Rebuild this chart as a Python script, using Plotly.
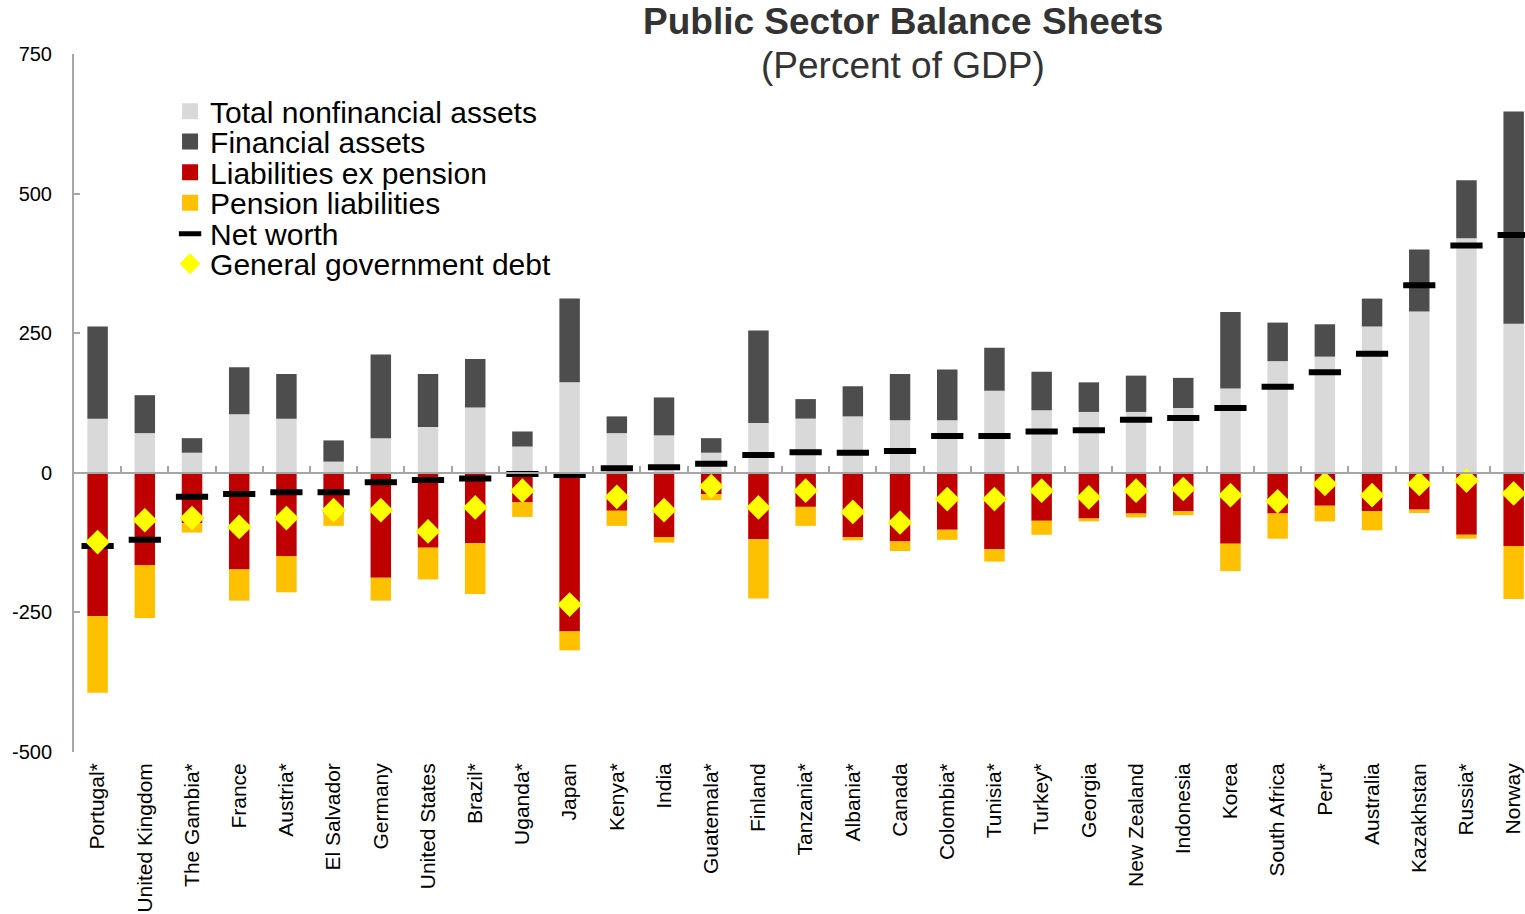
import plotly.graph_objects as go

# Public sector balance sheets, percent of GDP
countries = ["Portugal*", "United Kingdom", "The Gambia*", "France", "Austria*",
             "El Salvador", "Germany", "United States", "Brazil*", "Uganda*",
             "Japan", "Kenya*", "India", "Guatemala*", "Finland", "Tanzania*",
             "Albania*", "Canada", "Colombia*", "Tunisia*", "Turkey*", "Georgia",
             "New Zealand", "Indonesia", "Korea", "South Africa", "Peru*",
             "Australia", "Kazakhstan", "Russia*", "Norway"]

nonfinancial_assets = [97, 71, 36, 105, 97, 20, 62, 82, 117, 47, 162, 71, 67, 36, 89, 97,
                       101, 94, 94, 147, 112, 109, 109, 116, 151, 200, 208, 262, 289, 420, 267]
financial_assets = [165, 68, 26, 84, 80, 38, 150, 95, 87, 27, 150, 30, 68, 26, 166, 35,
                    54, 83, 91, 77, 69, 53, 65, 54, 137, 69, 58, 50, 111, 104, 380]
liabilities_ex_pension = [-257, -165, -90, -173, -149, -72, -188, -134, -126, -53, -284, -68,
                          -115, -38, -119, -61, -115, -123, -102, -137, -86, -82, -73, -69,
                          -127, -73, -59, -69, -66, -111, -131]
pension_liabilities = [-137, -95, -17, -56, -65, -23, -41, -57, -91, -26, -34, -27, -10, -11,
                       -106, -34, -6, -17, -18, -22, -25, -5, -7, -7, -49, -45, -28, -34,
                       -6, -7, -95]
net_worth = [-131, -120, -43, -38, -35, -35, -17, -13, -10, -2, -4, 8, 10, 16, 32, 37, 36,
             39, 66, 66, 74, 76, 95, 98, 116, 154, 180, 213, 336, 407, 426]
gg_debt = [-124, -85, -81, -97, -81, -67, -67, -105, -62, -32, -236, -43, -67, -24, -62, -32,
           -70, -89, -47, -47, -32, -44, -32, -29, -40, -51, -20, -40, -20, -14, -37]

y_ticks = [-500, -250, 0, 250, 500, 750]
y_tick_labels = ["-500", "-250", "0", "250", "500", "750"]

FONT = "Liberation Sans, Arial, sans-serif"
AXIS_GREY = "#a6a6a6"

fig = go.Figure()

bar_series = [
    ("Total nonfinancial assets", nonfinancial_assets, "#d9d9d9", "legend"),
    ("Financial assets", financial_assets, "#4d4d4d", "legend2"),
    ("Liabilities ex pension", liabilities_ex_pension, "#c00000", "legend3"),
    ("Pension liabilities", pension_liabilities, "#ffc000", "legend4"),
]
for name, values, color, leg in bar_series:
    fig.add_trace(go.Bar(
        x=countries, y=values, name=name, legendgroup=name, showlegend=False,
        marker=dict(color=color, line=dict(width=0)),
    ))
    # legend key: a larger square swatch than the default bar key
    fig.add_trace(go.Scatter(
        x=[None], y=[None], mode="markers", name=name, legendgroup=name, legend=leg,
        marker=dict(symbol="square", size=16, color=color, line=dict(width=0)),
        hoverinfo="skip",
    ))

fig.add_trace(go.Scatter(
    x=countries, y=net_worth, name="Net worth", legend="legend5", mode="markers",
    marker=dict(symbol="line-ew", size=23, color="black",
                line=dict(color="black", width=6)),
))
fig.add_trace(go.Scatter(
    x=countries, y=gg_debt, name="General government debt", legend="legend6",
    mode="markers", xaxis="x2",
    marker=dict(symbol="diamond", size=19, color="#ffff00", line=dict(width=0)),
))

# one single-entry legend per series so the rows can sit tightly together
legend_rows = [0.9181, 0.8747, 0.8307, 0.7869, 0.7425, 0.6995]
legend_keys = ["legend", "legend2", "legend3", "legend4", "legend5", "legend6"]
legends = {}
for key, ypos in zip(legend_keys, legend_rows):
    legends[key] = dict(
        x=0.0662, y=ypos, xanchor="left", yanchor="middle",
        bgcolor="rgba(0,0,0,0)", borderwidth=0,
        font=dict(family=FONT, size=30, color="black"),
    )

fig.update_layout(
    width=1525, height=914,
    margin=dict(l=74, r=0, t=53.5, b=162.3),
    paper_bgcolor="white", plot_bgcolor="white",
    showlegend=True,
    barmode="relative", bargap=0.566,
    font=dict(family=FONT, color="black"),
    xaxis=dict(
        type="category", range=[-0.5, 30.24],
        showline=False, showgrid=False, zeroline=False, ticks="",
        tickangle=-90, tickfont=dict(family=FONT, size=21, color="black"),
        ticklabelstandoff=6,
    ),
    xaxis2=dict(
        type="category", matches="x", overlaying="x", anchor="free", position=0.4,
        showline=True, linecolor=AXIS_GREY, linewidth=2,
        ticks="inside", ticklen=6, tickwidth=2, tickcolor=AXIS_GREY,
        tickson="boundaries", showticklabels=False, showgrid=False, zeroline=False,
    ),
    yaxis=dict(
        range=[-500, 750], tickvals=y_ticks, ticktext=y_tick_labels,
        showline=True, linecolor=AXIS_GREY, linewidth=2,
        ticks="inside", ticklen=6, tickwidth=2, tickcolor=AXIS_GREY,
        showgrid=False, zeroline=False,
        tickfont=dict(family=FONT, size=20, color="black"),
        ticklabelstandoff=16,
    ),
    annotations=[
        dict(text="<b>Public Sector Balance Sheets</b>", xref="paper", yref="paper",
             x=0.5713, y=1.047, xanchor="center", yanchor="middle", showarrow=False,
             font=dict(family=FONT, size=37, color="#333333")),
        dict(text="(Percent of GDP)", xref="paper", yref="paper",
             x=0.5713, y=0.983, xanchor="center", yanchor="middle", showarrow=False,
             font=dict(family=FONT, size=37, color="#333333")),
    ],
    **legends,
)

fig.write_html("out.html")
